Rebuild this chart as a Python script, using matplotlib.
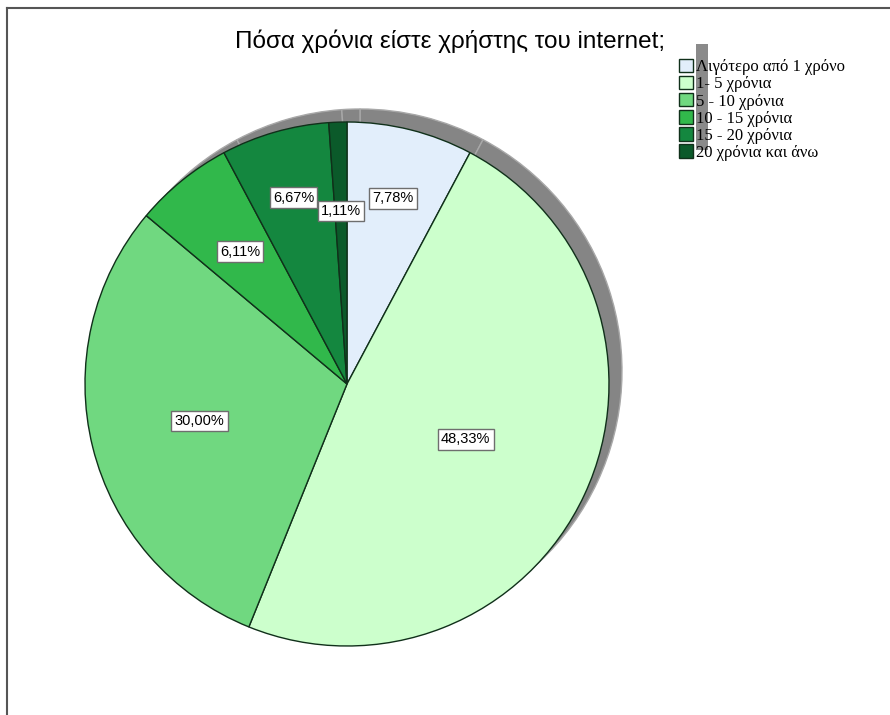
import matplotlib
matplotlib.use("Agg")
import matplotlib.pyplot as plt
import numpy as np
from matplotlib.patches import Rectangle

# Survey answers: years of internet use (percent of respondents)
categories = [
    "Λιγότερο από 1 χρόνο",
    "1- 5 χρόνια",
    "5 - 10 χρόνια",
    "10 - 15 χρόνια",
    "15 - 20 χρόνια",
    "20 χρόνια και άνω",
]
percentages = [7.78, 48.33, 30.00, 6.11, 6.67, 1.11]
slice_colors = ["#e2eefb", "#ccffcc", "#70d880", "#31b84b", "#14873f", "#0b5a2a"]
title = "Πόσα χρόνια είστε χρήστης του internet;"

W, H = 890, 715
fig = plt.figure(figsize=(W / 100, H / 100), dpi=100)
ax = fig.add_axes([0, 0, 1, 1])

center = (347, H - 384)
radius = 262
shadow_offset = (13, 13)

# 3D-style drop shadow behind the pie
ax.pie(
    percentages,
    center=(center[0] + shadow_offset[0], center[1] + shadow_offset[1]),
    radius=radius,
    startangle=90,
    counterclock=False,
    colors=["#858585"] * len(percentages),
    wedgeprops=dict(edgecolor="#a8a8a8", linewidth=1.0),
    frame=True,
)

wedges, _ = ax.pie(
    percentages,
    center=center,
    radius=radius,
    startangle=90,
    counterclock=False,
    colors=slice_colors,
    wedgeprops=dict(edgecolor="#10301a", linewidth=1.0),
    frame=True,
)
ax.set_xlim(0, W)
ax.set_ylim(0, H)
ax.set_aspect("equal")
ax.axis("off")

# label distance from centre, as a fraction of the radius
label_radius = [0.73, 0.50, 0.58, 0.65, 0.74, 0.66]
for wedge, pct, rfrac in zip(wedges, percentages, label_radius):
    mid = np.deg2rad((wedge.theta1 + wedge.theta2) / 2)
    x = center[0] + rfrac * radius * np.cos(mid)
    y = center[1] + rfrac * radius * np.sin(mid)
    ax.text(
        x, y, f"{pct:.2f}%".replace(".", ","),
        ha="center", va="center", fontsize=10.5, family="Liberation Sans",
        bbox=dict(boxstyle="square,pad=0.22", fc="white", ec="#6e6e6e", lw=1.0),
        zorder=5,
    )

# grey bar behind the legend
ax.add_patch(Rectangle((696, H - 150), 12, 106, fc="#8a8a8a", ec="none", zorder=1))

leg = ax.legend(
    wedges, categories,
    loc="upper left", bbox_to_anchor=(679 / W, 1 - 59 / H),
    frameon=False, prop=dict(family="Liberation Serif", size=12),
    handlelength=0.85, handleheight=0.85, handletextpad=0.15,
    labelspacing=0.04, borderpad=0, borderaxespad=0,
)
leg.set_zorder(6)

fig.text(450 / W, 1 - 41 / H, title, ha="center", va="center",
         fontsize=17.5, family="Liberation Sans")

# outer chart frame (top and left edges visible)
ax.plot([7, 7], [0, H - 8], color="#555555", lw=1.5, zorder=10)
ax.plot([7, W], [H - 8, H - 8], color="#555555", lw=1.5, zorder=10)

fig.savefig("out.png", dpi=100)
